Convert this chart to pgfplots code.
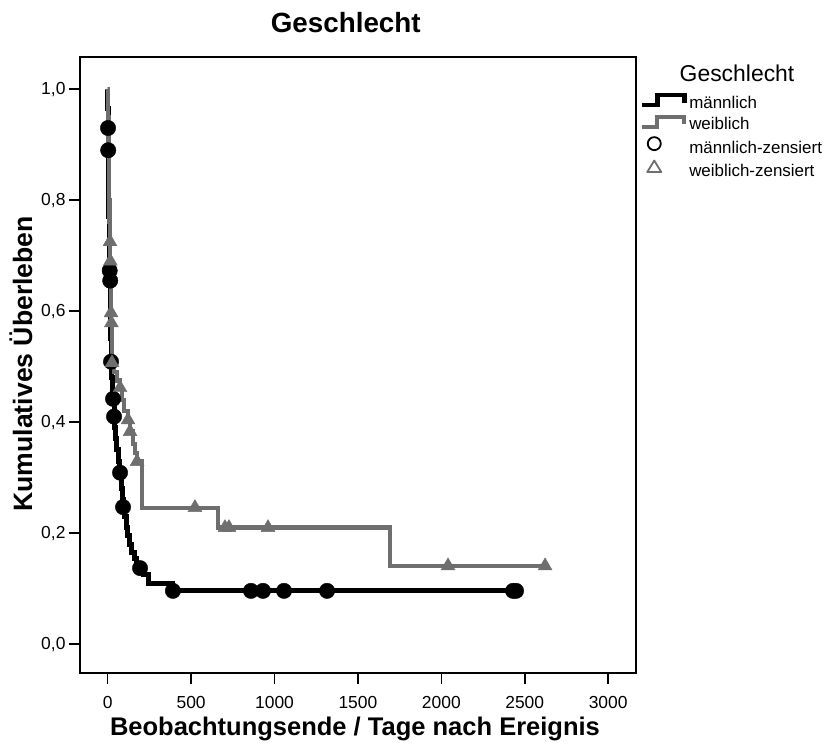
\documentclass[border=0pt]{standalone}
\usepackage{pgfplots}
\pgfplotsset{compat=1.18}
\usepackage{fontspec}
\setmainfont{Liberation Sans}
\definecolor{fgrey}{RGB}{110,110,110}
\pgfplotsset{
  steplegend/.style={legend image code/.code={\path[draw=none] (0bp,2bp) -- (45bp,2bp); \draw[##1] (0bp,-1.5bp) -- (15bp,-1.5bp) -- (15bp,8.5bp) -- (42bp,8.5bp) -- (42bp,1bp);}},
  circlegend/.style={legend image code/.code={\path[draw=none] (0bp,2bp) -- (45bp,2bp); \draw[##1] (12bp,5bp) circle (6.5bp);}},
  trilegend/.style={legend image code/.code={\path[draw=none] (0bp,2bp) -- (45bp,2bp); \draw[##1, line join=round] (5bp,-0.5bp) -- (19bp,-0.5bp) -- (12bp,11bp) -- cycle;}},
}
\begin{document}
\begin{tikzpicture}[x=1bp,y=1bp]
\useasboundingbox (-80,-70) rectangle (755,673);
\begin{axis}[
  at={(0,0)}, anchor=south west,
  scale only axis, width=556bp, height=616bp,
  xmin=-166, xmax=3167, ymin=-0.052, ymax=1.058,
  axis line style={line width=1.6bp},
  xtick={0,500,1000,1500,2000,2500,3000},
  ytick={0,0.2,0.4,0.6,0.8,1.0},
  tick align=outside, tick pos=left, major tick length=11bp,
  every tick/.style={black, line width=1.6bp},
  /pgf/number format/assume math mode=true,
  ticklabel style={font=\fontsize{17.5}{20}\selectfont},
  xticklabel style={/pgf/number format/1000 sep={}, yshift=-9bp},
  yticklabel style={/pgf/number format/.cd, fixed, fixed zerofill, precision=1, use comma},
  xlabel={Beobachtungsende / Tage nach Ereignis},
  ylabel={Kumulatives Überleben},
  label style={inner sep=0pt},
  xlabel style={at={(axis description cs:0.4945,0)}, anchor=base, yshift=-62bp, font=\bfseries\fontsize{25.6}{30}\selectfont},
  ylabel style={at={(axis description cs:-0.0863,0.502)}, anchor=base, font=\bfseries\fontsize{26.7}{30}\selectfont},
  title={Geschlecht},
  title style={at={(axis description cs:0.478,1)}, anchor=base, yshift=19bp, inner sep=0pt, font=\bfseries\fontsize{27.9}{32}\selectfont},
  legend style={at={(rel axis cs:1,1)}, anchor=north west, xshift=4bp, yshift=-36bp,
    draw=none, fill=none, inner sep=0pt, outer sep=0pt,
    font=\fontsize{17}{20}\selectfont, row sep=3bp,
    nodes={inner sep=0bp, text height=12.5bp, text depth=3.5bp},
    /tikz/every odd column/.append style={column sep=2bp}},
  legend cell align=left,
  clip=false,
]
% male (black) Kaplan-Meier step curve
\addplot[const plot, black, line width=5bp, forget plot] coordinates {
(0,1.0) (1,0.965) (2,0.93) (3,0.89) (5,0.85) (6,0.81) (7,0.77) (8,0.73) (10,0.70)
(12,0.673) (15,0.655) (16,0.62) (17,0.585) (19,0.55) (20,0.509) (24,0.48) (28,0.455)
(32,0.442) (38,0.41) (42,0.39) (48,0.37) (54,0.35) (62,0.33) (68,0.315) (74,0.309)
(80,0.28) (86,0.26) (92,0.247) (100,0.23) (110,0.21) (120,0.195) (130,0.18) (140,0.165)
(160,0.155) (175,0.145) (194,0.137) (215,0.125) (242,0.11) (391,0.096) (2448,0.096)
};
% female (grey) Kaplan-Meier step curve
\addplot[const plot, fgrey, line width=4.2bp, forget plot] coordinates {
(0,1.0) (3,0.95) (5,0.90) (7,0.85) (9,0.80) (11,0.76) (14,0.725) (16,0.69) (18,0.65)
(20,0.597) (22,0.579) (24,0.54) (26,0.507) (40,0.49) (55,0.475) (74,0.462) (85,0.44)
(100,0.42) (122,0.404) (134,0.383) (150,0.36) (165,0.345) (176,0.329) (206,0.246)
(661,0.21) (1692,0.141) (2622,0.141)
};
% male censored
\addplot[only marks, mark=*, mark size=7.7bp, black, forget plot] coordinates {
(2,0.93) (3,0.89) (12,0.673) (15,0.655) (20,0.509) (32,0.442) (38,0.41) (74,0.309)
(92,0.247) (194,0.137) (391,0.096) (859,0.096) (931,0.096) (1057,0.096) (1315,0.096)
(2430,0.096) (2448,0.096)
};
% female censored
\addplot[only marks, mark=triangle*, mark size=8bp, fgrey, forget plot] coordinates {
(14,0.725) (16,0.69) (20,0.597) (22,0.579) (26,0.507) (74,0.462) (122,0.404) (134,0.383)
(176,0.329) (523,0.246) (703,0.21) (727,0.21) (961,0.21) (2040,0.141) (2622,0.141)
};
\addlegendimage{black, line width=4.5bp, steplegend}
\addlegendentry{männlich}
\addlegendimage{fgrey, line width=4bp, steplegend}
\addlegendentry{weiblich}
\addlegendimage{black, line width=1.8bp, circlegend}
\addlegendentry{männlich-zensiert}
\addlegendimage{fgrey, line width=1.8bp, trilegend}
\addlegendentry{weiblich-zensiert}
\node[anchor=base, inner sep=0pt, font=\fontsize{23}{26}\selectfont] at ([xshift=101bp,yshift=-25bp]rel axis cs:1,1) {Geschlecht};
\end{axis}
\end{tikzpicture}
\end{document}
